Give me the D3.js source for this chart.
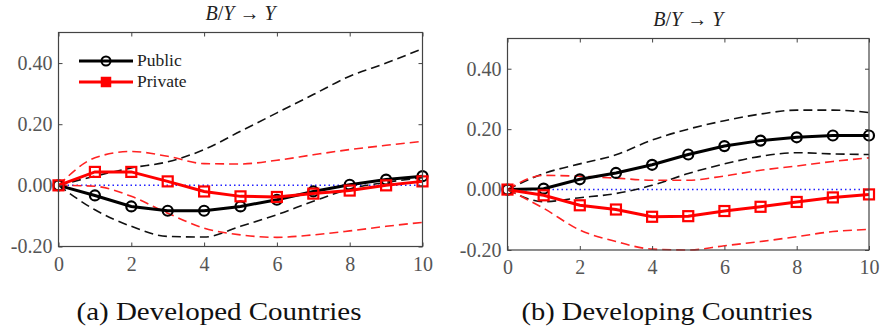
<!DOCTYPE html>
<html>
<head>
<meta charset="utf-8">
<script src="https://cdn.jsdelivr.net/npm/d3@7"></script>
<style>
  body { margin: 0; background: #fff; }
  svg { display: block; }
</style>
</head>
<body>
<script>
// horizons 0..10
var horizons = [0,1,2,3,4,5,6,7,8,9,10];
var yTicks = [-0.2, 0, 0.2, 0.4];
var xTicks = [0,2,4,6,8,10];

// (a) developed countries
var devPublic    = [0,-0.033,-0.069,-0.083,-0.083,-0.069,-0.047,-0.020,0.002,0.019,0.030];
var devPubUp     = [0,0.030,0.057,0.077,0.117,0.177,0.237,0.297,0.357,0.400,0.447];
var devPubLo     = [0,-0.080,-0.134,-0.167,-0.169,-0.134,-0.096,-0.052,-0.012,0.010,0.025];
var devPrivate   = [0,0.044,0.044,0.013,-0.020,-0.036,-0.038,-0.027,-0.017,0.000,0.013];
var devPrivUp    = [0,0.090,0.111,0.095,0.071,0.070,0.082,0.100,0.117,0.131,0.144];
var devPrivLo    = [0,-0.003,-0.036,-0.091,-0.140,-0.162,-0.170,-0.162,-0.149,-0.134,-0.121];

// (b) developing countries
var dvgPublic    = [0,0.003,0.034,0.055,0.082,0.116,0.144,0.162,0.173,0.179,0.179];
var dvgPubUp     = [0,0.053,0.085,0.115,0.164,0.200,0.228,0.250,0.263,0.263,0.255];
var dvgPubLo     = [0,-0.040,-0.027,-0.013,0.014,0.053,0.085,0.110,0.122,0.118,0.116];
var dvgPrivate   = [0,-0.019,-0.052,-0.066,-0.090,-0.088,-0.071,-0.057,-0.041,-0.026,-0.016];
var dvgPrivUp    = [0,0.047,0.044,0.038,0.031,0.031,0.045,0.064,0.078,0.093,0.105];
var dvgPrivLo    = [0,-0.062,-0.134,-0.172,-0.197,-0.200,-0.186,-0.172,-0.156,-0.139,-0.132];

var serif = "'Liberation Serif'";

var svg = d3.select("body").append("svg")
  .attr("width", 881)
  .attr("height", 330);

function drawPanel(p) {
  var x = d3.scaleLinear().domain([0, 10]).range([p.left, p.right]);
  var y = d3.scaleLinear().domain([-0.2, 0.5]).range([p.bottom, p.top]);
  var g = svg.append("g");

  // title B/Y -> Y
  var t = g.append("text")
    .attr("x", (p.left + p.right) / 2)
    .attr("y", p.titleY)
    .attr("text-anchor", "middle")
    .style("font-family", serif)
    .style("font-size", "20px")
    .attr("fill", "#222");
  t.append("tspan").style("font-style", "italic").text("B");
  t.append("tspan").text("/");
  t.append("tspan").style("font-style", "italic").text("Y");
  t.append("tspan").text(" \u2192 ");
  t.append("tspan").style("font-style", "italic").text("Y");

  // zero line
  g.append("line")
    .attr("x1", x(0)).attr("x2", x(10))
    .attr("y1", y(0)).attr("y2", y(0))
    .attr("stroke", "#2222ff")
    .attr("stroke-width", 1.5)
    .attr("stroke-dasharray", "1.5,3");

  var band = d3.line()
    .x(function(d, i) { return x(horizons[i]); })
    .y(function(d) { return y(d); })
    .curve(d3.curveMonotoneX);
  var line = d3.line()
    .x(function(d, i) { return x(horizons[i]); })
    .y(function(d) { return y(d); });

  [[p.pubUp, "#111"], [p.pubLo, "#111"], [p.privUp, "#ff2222"], [p.privLo, "#ff2222"]].forEach(function(b) {
    g.append("path")
      .attr("d", band(b[0]))
      .attr("fill", "none")
      .attr("stroke", b[1])
      .attr("stroke-width", 1.6)
      .attr("stroke-dasharray", "9,5");
  });

  // public
  g.append("path").attr("d", line(p.pub))
    .attr("fill", "none").attr("stroke", "#000").attr("stroke-width", 3);
  g.selectAll(".pubm").data(p.pub).enter().append("circle")
    .attr("cx", function(d, i) { return x(horizons[i]); })
    .attr("cy", function(d) { return y(d); })
    .attr("r", 5)
    .attr("fill", "none").attr("stroke", "#000").attr("stroke-width", 2.2);

  // private
  g.append("path").attr("d", line(p.priv))
    .attr("fill", "none").attr("stroke", "#ff0000").attr("stroke-width", 3);
  g.selectAll(".privm").data(p.priv).enter().append("rect")
    .attr("x", function(d, i) { return x(horizons[i]) - 5; })
    .attr("y", function(d) { return y(d) - 5; })
    .attr("width", 10).attr("height", 10)
    .attr("fill", "none").attr("stroke", "#ff0000").attr("stroke-width", 2.2);

  // box and ticks
  var axisColor = "#444";
  g.append("rect")
    .attr("x", p.left).attr("y", p.top)
    .attr("width", p.right - p.left).attr("height", p.bottom - p.top)
    .attr("fill", "none").attr("stroke", axisColor).attr("stroke-width", 1.2);

  var xb = g.append("g").attr("transform", "translate(0," + p.bottom + ")")
    .call(d3.axisBottom(x).tickValues(xTicks).tickSizeInner(-4).tickSizeOuter(0).tickPadding(10).tickFormat(d3.format("d")));
  var xt = g.append("g").attr("transform", "translate(0," + p.top + ")")
    .call(d3.axisTop(x).tickValues(xTicks).tickSizeInner(-4).tickSizeOuter(0).tickFormat(""));
  var yl = g.append("g").attr("transform", "translate(" + p.left + ",0)")
    .call(d3.axisLeft(y).tickValues(yTicks).tickSizeInner(-4).tickSizeOuter(0).tickPadding(6).tickFormat(d3.format(".2f")));
  var yr = g.append("g").attr("transform", "translate(" + p.right + ",0)")
    .call(d3.axisRight(y).tickValues(yTicks).tickSizeInner(-4).tickSizeOuter(0).tickFormat(""));
  [xb, xt, yl, yr].forEach(function(a) {
    a.select(".domain").remove();
    a.attr("font-family", null);
    a.selectAll("line").attr("stroke", axisColor);
    a.selectAll("text")
      .style("font-family", serif)
      .style("font-size", "20px")
      .attr("fill", "#555");
  });
  yl.selectAll("text").text(function(d) { return d3.format(".2f")(d).replace("\u2212", "-"); });

  // caption
  svg.append("text")
    .attr("x", p.capX)
    .attr("y", 320)
    .attr("text-anchor", "middle")
    .style("font-family", serif)
    .style("font-size", "26px")
    .attr("textLength", p.capW)
    .attr("lengthAdjust", "spacingAndGlyphs")
    .attr("fill", "#111")
    .text(p.caption);

  if (p.legend) {
    var lg = g.append("g");
    var items = [["Public", "#000", "circle", 61], ["Private", "#ff0000", "rect", 82]];
    items.forEach(function(it) {
      lg.append("line").attr("x1", 79).attr("x2", 133).attr("y1", it[3]).attr("y2", it[3])
        .attr("stroke", it[1]).attr("stroke-width", 3);
      if (it[2] === "circle") {
        lg.append("circle").attr("cx", 106).attr("cy", it[3]).attr("r", 4.5)
          .attr("fill", "none").attr("stroke", it[1]).attr("stroke-width", 2);
      } else {
        lg.append("rect").attr("x", 101.5).attr("y", it[3] - 4.5).attr("width", 9).attr("height", 9)
          .attr("fill", it[1]).attr("stroke", it[1]).attr("stroke-width", 1.5);
      }
      lg.append("text").attr("x", 137).attr("y", it[3] + 5)
        .style("font-family", serif)
        .style("font-size", "17.5px").attr("fill", "#222").text(it[0]);
    });
  }
}

drawPanel({
  left: 58.5, right: 422.5, top: 32.5, bottom: 246.5, titleY: 20,
  pub: devPublic, pubUp: devPubUp, pubLo: devPubLo,
  priv: devPrivate, privUp: devPrivUp, privLo: devPrivLo,
  caption: "(a) Developed Countries", capX: 219, capW: 285, legend: true
});
drawPanel({
  left: 507.5, right: 869, top: 38.5, bottom: 250, titleY: 26,
  pub: dvgPublic, pubUp: dvgPubUp, pubLo: dvgPubLo,
  priv: dvgPrivate, privUp: dvgPrivUp, privLo: dvgPrivLo,
  caption: "(b) Developing Countries", capX: 667, capW: 291, legend: false
});
</script>
</body>
</html>
